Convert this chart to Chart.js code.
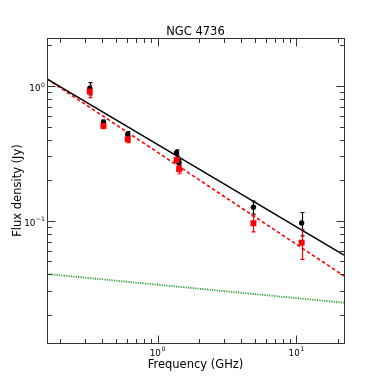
<!DOCTYPE html>
<html>
<head>
<meta charset="utf-8">
<script src="https://cdn.jsdelivr.net/npm/chart.js@4.4.1/dist/chart.umd.min.js"></script>
<style>
  html, body { margin: 0; padding: 0; background: #ffffff; }
  #wrap { width: 382px; height: 382px; position: relative; }
</style>
</head>
<body>
<div id="wrap"><canvas id="c" width="382" height="382"></canvas></div>
<script>
// ---- data ----
const freqGHz   = [0.325, 0.408, 0.61, 1.37, 1.43, 4.9, 10.9];
const fluxBlack = [0.96, 0.538, 0.438, 0.32, 0.27, 0.126, 0.096];
const errBlack  = [0.10, 0.02, 0.02, 0.015, 0.015, 0.014, 0.019];
const fluxRed   = [0.91, 0.505, 0.402, 0.282, 0.241, 0.0957, 0.0687];
const errRed    = [0.09, 0.022, 0.022, 0.018, 0.018, 0.013, 0.017];
const fitFreq   = [0.16, 22];
const fitBlack  = [1.127, 0.0556];
const fitRed    = [1.127, 0.0389];
const fitGreen  = [0.0402, 0.0246];
const xMajorTicks = [1, 10];
const xMajorLabels = [['10','0'], ['10','1']];
const xMinorTicks = [0.2,0.3,0.4,0.5,0.6,0.7,0.8,0.9,2,3,4,5,6,7,8,9,20];
const yMajorTicks = [1, 0.1];
const yMajorLabels = [['10','0'], ['10','\u22121']];
const yMinorTicks = [0.02,0.03,0.04,0.05,0.06,0.07,0.08,0.09,0.2,0.3,0.4,0.5,0.6,0.7,0.8,0.9,2];
const titleText = 'NGC 4736';
const xTitle = 'Frequency (GHz)';
const yTitle = 'Flux density (Jy)';

const pts = (xs, ys) => xs.map((x, i) => ({x: x, y: ys[i]}));
const FONT = "'DejaVu Sans', sans-serif";

const decorPlugin = {
  id: 'decor',
  beforeDatasetsDraw(chart) {
    const ctx = chart.ctx, xs = chart.scales.x, ys = chart.scales.y, a = chart.chartArea;
    ctx.save();
    ctx.beginPath(); ctx.rect(a.left, a.top, a.right - a.left, a.bottom - a.top); ctx.clip();
    const drawErr = (vals, errs, color) => {
      ctx.strokeStyle = color; ctx.lineWidth = 1.2;
      freqGHz.forEach((f, i) => {
        const px = Math.round(xs.getPixelForValue(f)) + 0.5;
        const y1 = ys.getPixelForValue(vals[i] + errs[i]);
        const y2 = ys.getPixelForValue(vals[i] - errs[i]);
        ctx.beginPath();
        ctx.moveTo(px, y1); ctx.lineTo(px, y2);
        ctx.moveTo(px - 2, y1); ctx.lineTo(px + 2, y1);
        ctx.moveTo(px - 2, y2); ctx.lineTo(px + 2, y2);
        ctx.stroke();
      });
    };
    drawErr(fluxBlack, errBlack, '#000000');
    drawErr(fluxRed, errRed, '#ff0000');
    ctx.restore();
  },
  afterDraw(chart) {
    const ctx = chart.ctx, xs = chart.scales.x, ys = chart.scales.y, a = chart.chartArea;
    ctx.save();
    // frame
    ctx.strokeStyle = '#333333'; ctx.lineWidth = 1;
    ctx.strokeRect(Math.round(a.left) + 0.5, Math.round(a.top) + 0.5,
                   Math.round(a.right - a.left), Math.round(a.bottom - a.top));
    const L = Math.round(a.left) + 0.5, R = Math.round(a.right) + 0.5;
    const T = Math.round(a.top) + 0.5, B = Math.round(a.bottom) + 0.5;
    const xt = (v, len) => {
      const p = Math.round(xs.getPixelForValue(v)) + 0.5;
      ctx.beginPath();
      ctx.moveTo(p, B); ctx.lineTo(p, B - len);
      ctx.moveTo(p, T); ctx.lineTo(p, T + len);
      ctx.stroke();
    };
    const yt = (v, len) => {
      const p = Math.round(ys.getPixelForValue(v)) + 0.5;
      ctx.beginPath();
      ctx.moveTo(L, p); ctx.lineTo(L + len, p);
      ctx.moveTo(R, p); ctx.lineTo(R - len, p);
      ctx.stroke();
    };
    xMajorTicks.forEach(v => xt(v, 8));
    xMinorTicks.forEach(v => xt(v, 4.5));
    yMajorTicks.forEach(v => yt(v, 8));
    yMinorTicks.forEach(v => yt(v, 4.5));

    // tick labels with superscripts
    ctx.fillStyle = '#000000';
    const bigF = "8.8px " + FONT, smallF = "6.2px " + FONT;
    xMajorTicks.forEach((v, i) => {
      const p = xs.getPixelForValue(v);
      ctx.font = bigF; const w1 = ctx.measureText(xMajorLabels[i][0]).width;
      ctx.font = smallF; const w2 = ctx.measureText(xMajorLabels[i][1]).width;
      const x0 = p - (w1 + w2 + 0.5) / 2;
      ctx.textBaseline = 'alphabetic'; ctx.textAlign = 'left';
      ctx.font = bigF; ctx.fillText(xMajorLabels[i][0], x0, 356);
      ctx.font = smallF; ctx.fillText(xMajorLabels[i][1], x0 + w1 + 0.5, 350.5);
    });
    yMajorTicks.forEach((v, i) => {
      const p = ys.getPixelForValue(v);
      ctx.font = bigF; const w1 = ctx.measureText(yMajorLabels[i][0]).width;
      ctx.font = smallF; const w2 = ctx.measureText(yMajorLabels[i][1]).width;
      const x0 = 45 - w1 - w2 - 0.5;
      ctx.textBaseline = 'alphabetic'; ctx.textAlign = 'left';
      ctx.font = bigF; ctx.fillText(yMajorLabels[i][0], x0, p + 5.5);
      ctx.font = smallF; ctx.fillText(yMajorLabels[i][1], x0 + w1 + 0.5, p + 0.8);
    });

    // titles
    ctx.font = "11.5px " + FONT;
    ctx.textAlign = 'center'; ctx.textBaseline = 'alphabetic';
    ctx.fillText(titleText, (a.left + a.right) / 2, 35);
    ctx.fillText(xTitle, (a.left + a.right) / 2, 367.5);
    ctx.save();
    ctx.translate(20.5, (a.top + a.bottom) / 2);
    ctx.rotate(-Math.PI / 2);
    ctx.fillText(yTitle, 0, 0);
    ctx.restore();
    ctx.restore();
  }
};

new Chart(document.getElementById('c'), {
  type: 'scatter',
  data: {
    datasets: [
      { label: 'red', data: pts(freqGHz, fluxRed), pointStyle: 'rect', pointRadius: 4.2,
        backgroundColor: '#ff0000', borderColor: '#ff0000', borderWidth: 0, showLine: false, order: 0 },
      { label: 'black', data: pts(freqGHz, fluxBlack), pointStyle: 'circle', pointRadius: 2.7,
        backgroundColor: '#000000', borderColor: '#000000', borderWidth: 0, showLine: false, order: 1 },
      { label: 'fitBlack', data: pts(fitFreq, fitBlack), showLine: true, pointRadius: 0,
        borderColor: '#000000', borderWidth: 1.5, order: 2 },
      { label: 'fitRed', data: pts(fitFreq, fitRed), showLine: true, pointRadius: 0,
        borderColor: '#ff0000', borderWidth: 1.6, borderDash: [3.5, 2.5], order: 3 },
      { label: 'fitGreen', data: pts(fitFreq, fitGreen), showLine: true, pointRadius: 0,
        borderColor: '#2ca02c', borderWidth: 1.8, borderDash: [1.2, 1.2], order: 4 }
    ]
  },
  options: {
    responsive: false,
    animation: false,
    events: [],
    layout: { padding: { left: 47, right: 38, top: 38, bottom: 39 } },
    plugins: { legend: { display: false }, tooltip: { enabled: false }, title: { display: false } },
    scales: {
      x: { type: 'logarithmic', min: 0.16, max: 22, display: false },
      y: { type: 'logarithmic', min: 0.01236, max: 2.27, display: false }
    }
  },
  plugins: [decorPlugin]
});
</script>
</body>
</html>
